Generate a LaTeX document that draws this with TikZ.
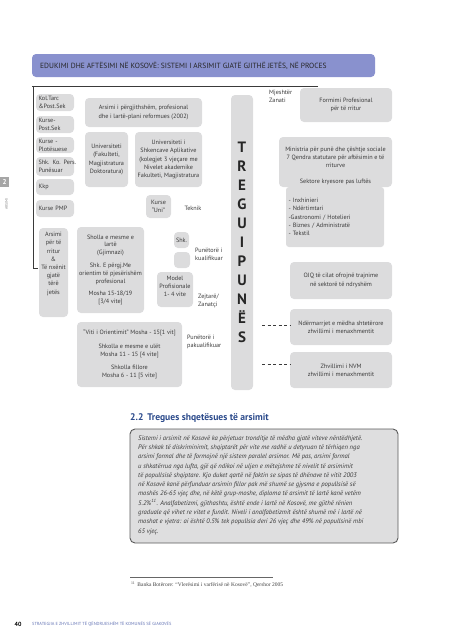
\documentclass[tikz,border=0pt]{standalone}
\usepackage{fontspec}
\setmainfont{PT Sans}
\newfontfamily\serifft{Liberation Serif}
\definecolor{boxgray}{HTML}{DCDCDD}
\definecolor{txtdark}{HTML}{3A3A3A}
\definecolor{headbar}{HTML}{8991CE}
\definecolor{tbfill}{HTML}{DEDEDF}
\definecolor{tbborder}{HTML}{5A5A5A}
\definecolor{headblue}{HTML}{2B4A8B}
\definecolor{footblue}{HTML}{6474B4}
\definecolor{tabgray}{HTML}{A6A6A6}
\begin{document}
\begin{tikzpicture}[x=1pt,y=-1pt,
  gbox/.style={fill=boxgray, rounded corners=4pt, draw=none, inner sep=0pt,
    font=\fontsize{6.2}{8.2}\selectfont, text=txtdark, align=center},
  lbox/.style={gbox, align=left, inner xsep=2.5pt, inner ysep=0pt},
  tx/.style={font=\fontsize{6.2}{8.2}\selectfont, text=txtdark, inner sep=0pt},
  dsh/.style={draw=txtdark, line width=0.6pt, dash pattern=on 3pt off 2.5pt},
  brk/.style={draw=txtdark, line width=0.8pt},
  bodytxt/.style={font=\fontsize{6.6}{9.3}\selectfont\itshape, text=txtdark, align=left, inner sep=0pt}
]
\useasboundingbox (0,0) rectangle (453,640);

% header bar
\node[fill=headbar, rounded corners=4pt, minimum width=343, minimum height=23, inner sep=0pt] (hdr) at (203.5,65.5) {};
\node[anchor=west, font=\fontsize{7.5}{8}\selectfont, text=black!85, inner sep=0pt] (hdrt) at (40,66)
  {EDUKIMI DHE AFTËSIMI NË KOSOVË: SISTEMI I ARSIMIT GJATË GJITHË JETËS, NË PROCES};

% bracket lines
\coordinate (b0) at (318,86);
\coordinate (b1) at (32,86);
\coordinate (b2) at (33,268);
\coordinate (b3) at (38,268);
\draw[brk] (b0) -- (b1);
\draw[brk] (33,86) -- (b2) -- (b3);

% side tab
\node[fill=tabgray, minimum width=9, minimum height=10, inner sep=0pt, text=white, font=\fontsize{7}{7}\selectfont\bfseries] (tab) at (4.5,182) {2};
\node[rotate=90, font=\fontsize{3.8}{4}\selectfont, text=black!45, inner sep=0pt] (tabt) at (6.5,204) {ARSIMI};

% left column
\node[lbox, text width=33pt, minimum height=17] (kol) at (55,102.5) {Kol.Tarc\\\&Post.Sek};
\node[lbox, text width=33pt, minimum height=17] (kpost) at (55,124.5) {Kurse-\\Post.Sek};
\node[lbox, text width=33pt, minimum height=16] (kplot) at (55,145) {Kurse -\\Plotësuese};
\node[lbox, text width=33pt, minimum height=19] (shk) at (55,166.5) {\mbox{Shk. Ko. Pers.}\\Punësuar};
\node[lbox, text width=33pt, minimum height=16] (kkp) at (55,187) {Kkp};
\node[lbox, text width=33pt, minimum height=17] (kpmp) at (55,208.5) {Kurse PMP};
\node[gbox, minimum width=29, minimum height=89] (ars) at (53.5,272.5) {};
\node[tx, align=center, anchor=north] (arst) at (53.5,232) {Arsimi\\për të\\rritur\\\&\\Të nxënit\\gjatë\\tërë\\jetës};

% middle column
\node[gbox, minimum width=117, minimum height=29] (plan) at (143.5,112.5) {Arsimi i përgjithshëm, profesional\\dhe i lartë-plani reformues (2002)};
\node[gbox, minimum width=43, minimum height=55] (uni) at (106.5,159.5) {Universiteti\\(Fakulteti,\\Magjistratura\\Doktoratura)};
\node[gbox, minimum width=67, minimum height=55] (usha) at (168.5,159.5) {Universiteti i\\Shkencave Aplikative\\(kolegjet 3 vjeçare me\\Nivelet akademike\\Fakulteti, Magjistratura};
\node[gbox, minimum width=25, minimum height=23] (kuni) at (158.5,206.5) {Kurse\\“Uni”};
\node[tx] (tek) at (193,208) {Teknik};
\node[gbox, minimum width=67, minimum height=86, font=\fontsize{6.2}{7.8}\selectfont] (sholla) at (110.5,270) {Sholla e mesme e\\lartë\\(Gjimnazi)\\[5pt]Shk. E përgj.Me\\orientim të pjesërishëm\\profesional\\[5pt]Mosha 15-18/19\\{}{[3/4 vite]}};
\node[gbox, minimum width=15, minimum height=16] (shkb) at (181.5,240) {Shk.};
\node[gbox, minimum width=16, minimum height=16] (emp) at (182,260) {};
\node[tx, align=left, anchor=west] (kual) at (195,254) {Punëtorë i\\kualifikuar};
\node[gbox, minimum width=36, minimum height=35] (model) at (175,289.5) {};
\node[tx, align=center, anchor=north] (modelt) at (175,276) {Model\\Profisionale\\1- 4 vite};
\node[tx, align=left, anchor=west] (zej) at (198,301) {Zejtarë/\\Zanatçi};
\node[gbox, minimum width=105, minimum height=65] (bot) at (129.5,354.5) {“Viti i Orientimit” Mosha - 15[1 vit]\\[5pt]Shkolla e mesme e ulët\\Mosha 11 - 15 {[4 vite]}\\[5pt]Shkolla fillore\\Mosha 6 - 11 {[5 vite]}};
\node[tx, align=left, anchor=west] (pak) at (187,342) {Punëtorë i\\pakualifikuar};

% tregu
\node[gbox, minimum width=22, minimum height=295, font=\fontsize{15}{19}\selectfont\bfseries, text=black!85] (tregu) at (242,242.5) {T\\R\\E\\G\\U\\I\\P\\U\\N\\Ë\\S};

% right column
\node[tx, align=left, anchor=west] (mj) at (269,96) {Mjeshtër\\Zanati};
\node[gbox, minimum width=92, minimum height=34] (form) at (346,105) {Formimi Profesional\\për të rritur};
\node[gbox, minimum width=113, minimum height=50] (min) at (335.5,162) {};
\node[tx, align=center] (mint) at (335.5,166) {Ministria për punë dhe çështje sociale\\7 Qendra statutare për aftësimin e të\\rriturve\\[8pt]Sektore kryesore pas luftës};
\node[lbox, text width=93pt, minimum height=60, rounded corners=3pt] (lst) at (335,217) {- Inxhinieri\\- Ndërtimtari\\-Gastronomi / Hotelieri\\- Biznes / Administratë\\- Tekstil};
\node[gbox, minimum width=102, minimum height=37] (ojq) at (341,280.5) {OJQ të cilat ofrojnë trajnime\\në sektorë të ndryshëm};
\node[gbox, minimum width=102, minimum height=36] (nderm) at (341,327) {Ndërmarrjet e mëdha shtetërore\\zhvillimi i menaxhmentit};
\node[gbox, minimum width=102, minimum height=36] (nvm) at (341,370) {Zhvillimi i NVM\\zhvillimi i menaxhmentit};
\coordinate (d1) at (262,325);
\coordinate (d2) at (262,364);
\draw[dsh] (d1) -- (d1 -| nderm.west);
\draw[dsh] (d2) -- (d2 -| nvm.west);

% section heading
\node[anchor=west, font=\fontsize{9.6}{10}\selectfont\bfseries, text=headblue, inner sep=0pt] (sec) at (130,418) {2.2\hspace{4pt}Tregues shqetësues të arsimit};

% text box
\node[fill=tbfill, draw=tbborder, line width=0.9pt, rounded corners=5pt, minimum width=268, minimum height=114, inner sep=0pt] (tb) at (264,486) {};
\node[bodytxt, anchor=north west] (body) at (138,435.2) {%
Sistemi i arsimit në Kosovë ka përjetuar tronditje të mëdha gjatë viteve nëntëdhjetë.\\
Për shkak të diskriminimit, shqiptarët për vite me radhë u detyruan të tërhiqen nga\\
arsimi formal dhe të formojnë një sistem paralel arsimor. Më pas, arsimi formal\\
u shkatërrua nga lufta, gjë që ndikoi në uljen e mëtejshme të nivelit të arsimimit\\
të popullsisë shqiptare. Kjo duket qartë në faktin se sipas të dhënave të vitit 2003\\
në Kosovë kanë përfunduar arsimin fillor pak më shumë se gjysma e popullsisë së\\
moshës 26-65 vjeç dhe, në këtë grup-moshe, diploma të arsimit të lartë kanë vetëm\\
5.2\%\textsuperscript{11}. Analfabetizmi, gjithashtu, është ende i lartë në Kosovë, me gjithë rënien\\
graduale që vihet re vitet e fundit. Niveli i analfabetizmit është shumë më i lartë në\\
moshat e vjetra: ai është 0.5\% tek popullsia deri 26 vjeç dhe 49\% në popullsinë mbi\\
65 vjeç.};

% footnote
\draw[line width=0.4pt, draw=black!60] (130,577) -- (273,577);
\node[anchor=west, font=\serifft\fontsize{5.5}{6}\selectfont, text=black!75, inner sep=0pt] (fn) at (131,584.5)
  {\textsuperscript{11}\hspace{2pt}Banka Botërore: “Vlerësimi i varfërisë në Kosovë”, Qershor 2005};

% footer
\node[anchor=west, font=\fontsize{6}{7}\selectfont\bfseries, inner sep=0pt] (pg) at (14.5,624.5) {40};
\node[anchor=west, font=\fontsize{4.4}{5}\selectfont, text=footblue, inner sep=0pt] (ft) at (32,624.5)
  {STRATEGJIA E ZHVILLIMIT TË QËNDRUESHËM TË KOMUNËS SË GJAKOVËS};
\end{tikzpicture}
\end{document}
